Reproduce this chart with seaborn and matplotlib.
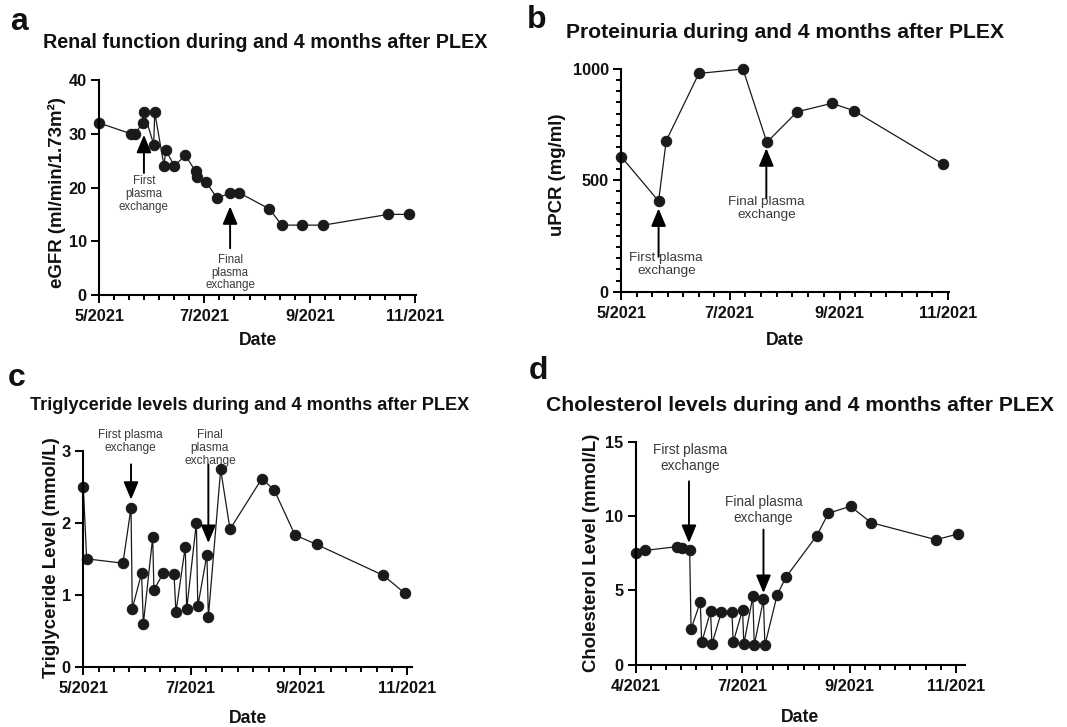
import numpy as np
import pandas as pd
import seaborn as sns
import matplotlib.pyplot as plt

# days since 1 May 2021
days_a = [0, 18.3, 20.8, 25.3, 26, 31.7, 32.3, 37.7, 38.7, 43.7, 50.1, 56.1, 56.9,
          62.3, 68.6, 76.2, 81.6, 99.1, 106.3, 118.3, 130.6, 168.4, 180.6]
egfr = [32, 30, 30, 32, 34, 28, 34, 24, 27, 24, 26, 23, 22, 21, 18, 19, 19, 16, 13,
        13, 13, 15, 15]

days_b = [0, 21.0, 25.3, 43.7, 68.5, 82.0, 99.1, 118.7, 130.9, 181.2]
upcr = [606, 407, 678, 980, 1000, 671, 808, 846, 813, 573]

days_c = [0, 1.9, 22.5, 27.1, 27.8, 33.1, 34.1, 39.4, 40.1, 45.4, 51.5, 52.6, 57.9,
          58.7, 64.2, 65.0, 70.2, 71.0, 78.0, 83.3, 101.3, 108.3, 120.2, 132.5,
          170.4, 182.7]
trig = [2.50, 1.50, 1.44, 2.21, 0.81, 1.30, 0.60, 1.80, 1.07, 1.30, 1.29, 0.76, 1.67,
        0.80, 2.00, 0.84, 1.56, 0.69, 2.74, 1.91, 2.61, 2.46, 1.83, 1.70, 1.27, 1.02]

days_d = [0.4, 5.5, 23.7, 26.6, 31.0, 31.8, 37.1, 37.9, 43.0, 43.8, 49.2, 55.3, 56.0,
          61.4, 62.1, 67.3, 68.1, 73.4, 74.2, 81.3, 86.4, 104.0, 110.7, 123.4, 135.2,
          172.5, 185.0]
chol = [7.52, 7.70, 7.95, 7.84, 7.70, 2.40, 4.22, 1.50, 3.59, 1.39, 3.53, 3.53, 1.50,
        3.71, 1.39, 4.60, 1.30, 4.40, 1.30, 4.72, 5.91, 8.69, 10.2, 10.67, 9.57, 8.42,
        8.80]

month_ticks = [0, 61, 123, 184]
month_labels = ["5/2021", "7/2021", "9/2021", "11/2021"]
month_labels_d = ["4/2021", "7/2021", "9/2021", "11/2021"]

sns.set_style("ticks")
plt.rcParams['font.family'] = ['Liberation Sans', 'DejaVu Sans']
plt.rcParams['font.weight'] = 'bold'

fig = plt.figure(figsize=(10.67, 7.27), dpi=100)
W, H = 1067, 727


def make_axes(l, r, t, b):
    return fig.add_axes([l / W, 1 - b / H, (r - l) / W, (b - t) / H])


ax_a = make_axes(99.3, 416, 80, 295)
ax_b = make_axes(621.3, 949, 69, 291.7)
ax_c = make_axes(83.3, 412.3, 450.7, 667)
ax_d = make_axes(635.7, 964.7, 442, 664.7)

dark = '#1a1a1a'
note_color = '#3a3a3a'


def style(ax, x, y, xlim, ylim, yticks, ylabel, ylab_x, ylab_y, date_y, labels,
          yminor=None):
    df = pd.DataFrame({'day': x, 'val': y})
    sns.lineplot(data=df, x='day', y='val', ax=ax, sort=False, estimator=None,
                 color=dark, lw=0.9, marker='o', markersize=7.5,
                 markeredgecolor=dark, markerfacecolor=dark, clip_on=False)
    ax.set_xlim(*xlim)
    ax.set_ylim(*ylim)
    ax.set_xticks(month_ticks)
    ax.set_xticklabels(labels)
    minors = []
    for a, b in zip(month_ticks[:-1], month_ticks[1:]):
        minors.extend(np.linspace(a, b, 8)[1:-1])
    ax.set_xticks(minors, minor=True)
    ax.set_yticks(yticks)
    if yminor is not None:
        ax.set_yticks(yminor, minor=True)
    ax.tick_params(which='major', length=6, width=1.4, labelsize=11.8, pad=3,
                   color='black', labelcolor='#111111')
    ax.tick_params(axis='x', which='major', pad=4)
    ax.tick_params(which='minor', length=3.5, width=1.4, color='black')
    for lab in ax.get_xticklabels() + ax.get_yticklabels():
        lab.set_fontweight('bold')
    sns.despine(ax=ax)
    for s in ['left', 'bottom']:
        ax.spines[s].set_linewidth(1.5)
        ax.spines[s].set_color('black')
    ax.set_ylabel(ylabel, fontsize=13.4, fontweight='bold', color='#111111')
    ax.yaxis.set_label_coords(ylab_x, ylab_y)
    ax.set_xlabel('Date', fontsize=12.7, fontweight='bold', color='#111111')
    ax.xaxis.set_label_coords(0.5, date_y)


def arrow(ax, x, tail, tip):
    ax.annotate('', xy=(x, tip), xytext=(x, tail), annotation_clip=False,
                arrowprops=dict(arrowstyle='-|>,head_length=0.6,head_width=0.25',
                                mutation_scale=18, lw=1.4, color='black',
                                shrinkA=0, shrinkB=0))


def note(ax, x, y, txt, size):
    ax.text(x, y, txt, ha='center', va='top', fontsize=size, fontweight='normal',
            color=note_color, linespacing=1.1, clip_on=False)


# a
style(ax_a, days_a, egfr, (0, 184.5), (0, 40), [0, 10, 20, 30, 40],
      'eGFR (ml/min/1.73m²)', -0.105, 0.477, -0.17, month_labels)
arrow(ax_a, 26, 22.7, 29.8)
note(ax_a, 26, 22.3, 'First\nplasma\nexchange', 8.3)
arrow(ax_a, 76.2, 8.7, 16.5)
note(ax_a, 76.2, 7.7, 'Final\nplasma\nexchange', 8.3)

# b
style(ax_b, days_b, upcr, (0, 184.6), (0, 1000), [0, 500, 1000],
      'uPCR (mg/ml)', -0.169, 0.524, -0.18, month_labels,
      yminor=np.arange(50, 1000, 50))
arrow(ax_b, 21.0, 157, 374)
note(ax_b, 25.3, 178, 'First plasma\nexchange', 9.7)
arrow(ax_b, 81.7, 419, 644)
note(ax_b, 81.7, 430, 'Final plasma\nexchange', 9.7)

# c
style(ax_c, days_c, trig, (0, 186.8), (0, 3), [0, 1, 2, 3],
      'Triglyceride Level (mmol/L)', -0.071, 0.504, -0.20, month_labels)
arrow(ax_c, 27.1, 2.81, 2.32)
note(ax_c, 26.9, 3.30, 'First plasma\nexchange', 8.6)
arrow(ax_c, 71.0, 2.81, 1.72)
note(ax_c, 71.9, 3.30, 'Final\nplasma\nexchange', 8.6)

# d
style(ax_d, days_d, chol, (0, 189), (0, 15), [0, 5, 10, 15],
      'Cholesterol Level (mmol/L)', -0.108, 0.503, -0.20, month_labels_d)
arrow(ax_d, 30.6, 12.35, 8.2)
note(ax_d, 31.4, 14.9, 'First plasma\nexchange', 9.8)
arrow(ax_d, 73.4, 9.1, 4.83)
note(ax_d, 73.4, 11.4, 'Final plasma\nexchange', 9.8)

# titles and panel letters
titles = [("Renal function during and 4 months after PLEX", 265, 42.7, 14.2),
          ("Proteinuria during and 4 months after PLEX", 785, 33, 15.2),
          ("Triglyceride levels during and 4 months after PLEX", 250, 406, 13.1),
          ("Cholesterol levels during and 4 months after PLEX", 800, 405.7, 15.2)]
for txt, x, y, s in titles:
    fig.text(x / W, 1 - y / H, txt, ha='center', va='center', fontsize=s,
             fontweight='bold', color='#111111')

letters = [('a', 19, 22.5), ('b', 537, 20), ('c', 17, 378), ('d', 538, 371)]
for txt, x, y in letters:
    fig.text(x / W, 1 - y / H, txt, ha='center', va='center', fontsize=23,
             fontweight='bold', color='#111111')

fig.savefig('out.png', dpi=100)
